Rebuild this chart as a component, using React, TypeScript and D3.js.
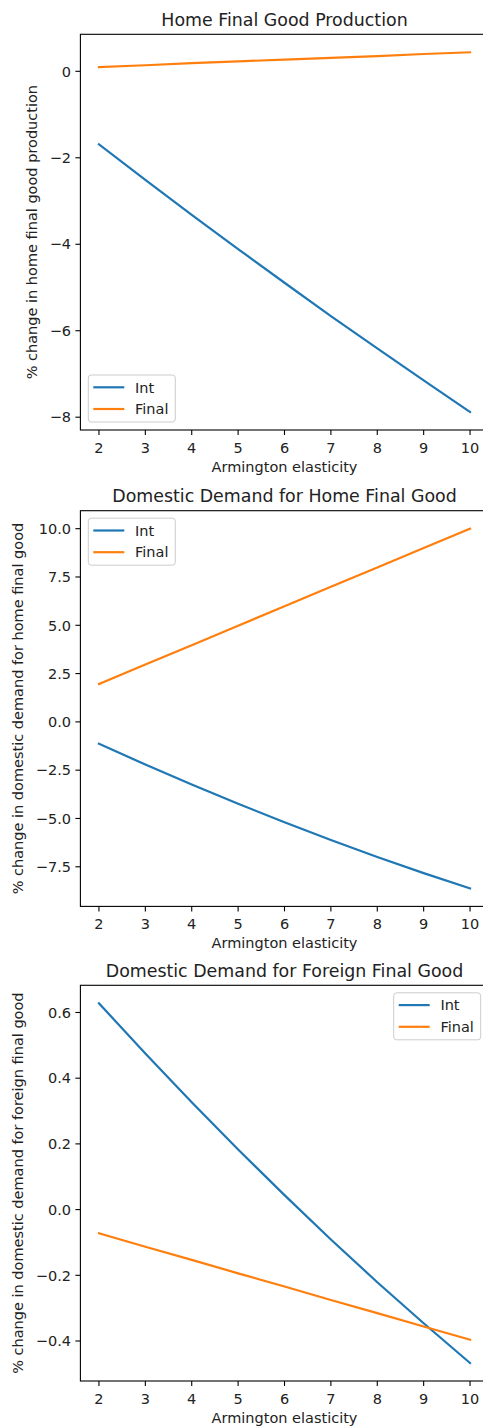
import React from "react";
import * as d3 from "d3";

const elasticity = [2, 3, 4, 5, 6, 7, 8, 9, 10];

const prodInt = [-1.69, -2.51, -3.32, -4.11, -4.89, -5.66, -6.41, -7.15, -7.88];
const prodFinal = [0.1, 0.14, 0.19, 0.23, 0.27, 0.31, 0.35, 0.4, 0.44];

const homeInt = [-1.13, -2.21, -3.24, -4.24, -5.19, -6.11, -6.99, -7.83, -8.62];
const homeFinal = [1.96, 2.97, 3.97, 4.98, 5.98, 6.99, 7.99, 9.0, 10.0];

const foreignInt = [0.628, 0.475, 0.327, 0.183, 0.044, -0.091, -0.221, -0.346, -0.467];
const foreignFinal = [-0.072, -0.113, -0.153, -0.194, -0.234, -0.275, -0.315, -0.356, -0.396];

const seriesNames = ["Int", "Final"];
const seriesColors = ["#1f77b4", "#ff7f0e"];

const titles = [
  "Home Final Good Production",
  "Domestic Demand for Home Final Good",
  "Domestic Demand for Foreign Final Good",
];
const yLabels = [
  "% change in home final good production",
  "% change in domestic demand for home final good",
  "% change in domestic demand for foreign final good",
];
const xLabel = "Armington elasticity";

const yTicks1 = [0, -2, -4, -6, -8];
const yTicks2 = [10, 7.5, 5, 2.5, 0, -2.5, -5, -7.5];
const yTicks3 = [0.6, 0.4, 0.2, 0, -0.2, -0.4];
const yTickDecimals = [0, 1, 1];

const panelData = [
  [prodInt, prodFinal],
  [homeInt, homeFinal],
  [foreignInt, foreignFinal],
];
const panelTicks = [yTicks1, yTicks2, yTicks3];

// layout
const W = 483;
const H = 1427;
const LEFT = 80.4;
const RIGHT = 488.6;
const tops = [34.3, 510.7, 985.3];
const AX_H = 395.7;
const yLabelX = [37, 22.5, 22.5];
const legendLoc = ["lower left", "upper left", "upper right"];
const FONT = "DejaVu Sans, sans-serif";
const FS = 14.5;
const TFS = 17.4;
const TEXT = "#222";

const fmtMinus = (s: string) => s.replace("-", "\u2212");

function Panel({ idx }: { idx: number }) {
  const top = tops[idx];
  const bottom = top + AX_H;
  const series = panelData[idx];
  const all = series.flat();
  const [mn, mx] = d3.extent(all) as [number, number];
  const pad = (mx - mn) * 0.05;
  const y = d3.scaleLinear().domain([mn - pad, mx + pad]).range([bottom, top]);
  const xpad = (10 - 2) * 0.05;
  const x = d3.scaleLinear().domain([2 - xpad, 10 + xpad]).range([LEFT, RIGHT]);
  const line = d3
    .line<number>()
    .x((_, i) => x(elasticity[i]))
    .y((d) => y(d));
  const ticks = panelTicks[idx];
  const dec = yTickDecimals[idx];

  const lw = 87;
  const lh = 47;
  let lx = LEFT + 7.9;
  let ly = top + 7.5;
  if (legendLoc[idx] === "lower left") ly = bottom - 8 - lh;
  if (legendLoc[idx] === "upper right") lx = RIGHT - 7.9 - lw;
  const rowY = [12.3, 34];

  return (
    <g>
      <text
        x={(LEFT + RIGHT) / 2}
        y={top - 8.7}
        textAnchor="middle"
        fontFamily={FONT}
        fontSize={TFS}
        fill={TEXT}
      >
        {titles[idx]}
      </text>
      {series.map((s, i) => (
        <path
          key={i}
          d={line(s) || ""}
          fill="none"
          stroke={seriesColors[i]}
          strokeWidth={2.2}
          strokeLinecap="square"
        />
      ))}
      <rect
        x={LEFT}
        y={top}
        width={RIGHT - LEFT}
        height={AX_H}
        fill="none"
        stroke="#000"
        strokeWidth={1.1}
      />
      {elasticity.map((e) => (
        <g key={e}>
          <line x1={x(e)} x2={x(e)} y1={bottom} y2={bottom + 5} stroke="#000" strokeWidth={1.1} />
          <text
            x={x(e)}
            y={bottom + 22.5}
            textAnchor="middle"
            fontFamily={FONT}
            fontSize={FS}
            fill={TEXT}
          >
            {e}
          </text>
        </g>
      ))}
      {ticks.map((t) => (
        <g key={t}>
          <line x1={LEFT - 5} x2={LEFT} y1={y(t)} y2={y(t)} stroke="#000" strokeWidth={1.1} />
          <text
            x={71}
            y={y(t)}
            dy="0.36em"
            textAnchor="end"
            fontFamily={FONT}
            fontSize={FS}
            fill={TEXT}
          >
            {fmtMinus(t.toFixed(dec))}
          </text>
        </g>
      ))}
      <text
        x={(LEFT + RIGHT) / 2}
        y={bottom + 41.7}
        textAnchor="middle"
        fontFamily={FONT}
        fontSize={FS}
        fill={TEXT}
      >
        {xLabel}
      </text>
      <text
        transform={`translate(${yLabelX[idx]},${(top + bottom) / 2}) rotate(-90)`}
        textAnchor="middle"
        fontFamily={FONT}
        fontSize={FS}
        fill={TEXT}
      >
        {yLabels[idx]}
      </text>
      <g transform={`translate(${lx},${ly})`}>
        <rect
          x={0}
          y={0}
          width={lw}
          height={lh}
          rx={3}
          fill="#fff"
          fillOpacity={0.8}
          stroke="#ccc"
          strokeWidth={1}
        />
        {seriesNames.map((n, i) => (
          <g key={n}>
            <line
              x1={5}
              x2={36}
              y1={rowY[i]}
              y2={rowY[i]}
              stroke={seriesColors[i]}
              strokeWidth={2.2}
            />
            <text
              x={46.7}
              y={rowY[i]}
              dy="0.36em"
              fontFamily={FONT}
              fontSize={FS}
              fill={TEXT}
            >
              {n}
            </text>
          </g>
        ))}
      </g>
    </g>
  );
}

export default function App() {
  return (
    <svg
      width={W}
      height={H}
      viewBox={`0 0 ${W} ${H}`}
      style={{ position: "absolute", left: 0, top: 0, display: "block", background: "#fff" }}
    >
      {[0, 1, 2].map((i) => (
        <Panel key={i} idx={i} />
      ))}
    </svg>
  );
}
